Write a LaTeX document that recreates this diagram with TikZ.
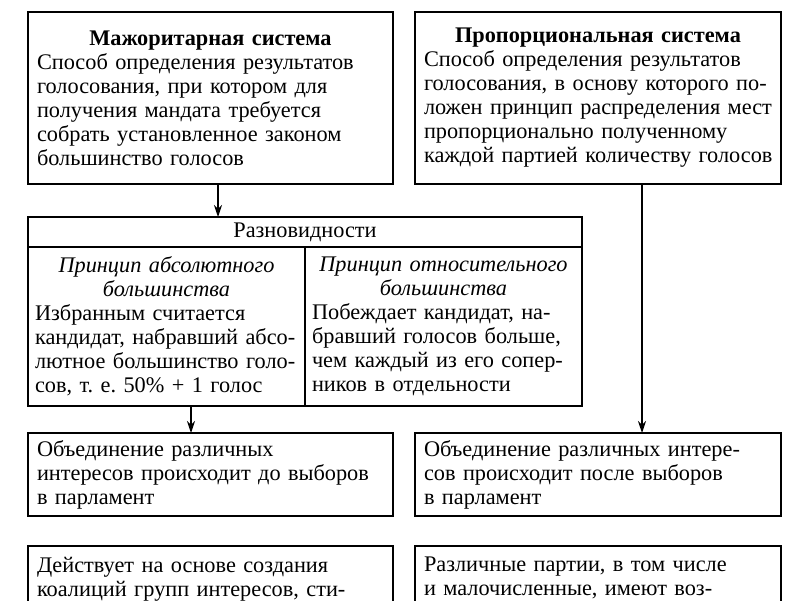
\documentclass[tikz,border=0pt]{standalone}
\usepackage{fontspec}
\setmainfont{Liberation Serif}
\usetikzlibrary{arrows.meta}
\setlength{\parindent}{0pt}
\frenchspacing
\newcommand{\Lz}[1]{\mbox{#1}}
\begin{document}
\begin{tikzpicture}[x=1pt,y=-1pt,
  box/.style={draw, line width=1.1pt, anchor=north west, outer sep=0pt,
    inner xsep=9pt, inner ysep=0pt, font=\fontsize{22.3}{24}\selectfont},
  arr/.style={line width=1.1pt, -{Stealth[length=12pt,width=8pt]}}]
\useasboundingbox (0,0) rectangle (800,600);
\clip (0,0) rectangle (800,600);
\fill[white] (0,0) rectangle (800,600);

\node[box, minimum width=365pt, minimum height=172pt, text width=347pt] (maj) at (28,12)
 {\centering\textbf{Мажоритарная система}\par
  \raggedright \Lz{Способ определения результатов}\\
  \Lz{голосования, при котором для}\\
  \Lz{получения мандата требуется}\\
  \Lz{собрать установленное законом}\\
  \Lz{большинство голосов}};

\node[box, minimum width=366pt, minimum height=172pt, text width=348pt] (prop) at (415,12)
 {\centering\textbf{Пропорциональная система}\par
  \raggedright \Lz{Способ определения результатов}\\
  \Lz{голосования, в основу которого по-}\\
  \Lz{ложен принцип распределения мест}\\
  \Lz{пропорционально полученному}\\
  \Lz{каждой партией количеству голосов}};

\node[box, minimum width=554pt, minimum height=30pt, text width=536pt, align=center] (razn) at (28,217)
 {Разновидности};

\node[box, inner xsep=7pt, minimum width=277pt, minimum height=159pt, text width=263pt] (absol) at (28,247)
 {\centering\textit{Принцип абсолютного\\ большинства}\par
  \raggedright \Lz{Избранным считается}\\
  \Lz{кандидат, набравший абсо-}\\
  \Lz{лютное большинство голо-}\\
  \Lz{сов, т. е. 50\% + 1 голос}};

\node[box, inner xsep=7pt, minimum width=277pt, minimum height=159pt, text width=263pt] (otnos) at (305,247)
 {\centering\textit{Принцип относительного\\ большинства}\par
  \raggedright \Lz{Побеждает кандидат, на-}\\
  \Lz{бравший голосов больше,}\\
  \Lz{чем каждый из его сопер-}\\
  \Lz{ников в отдельности}};

\node[box, minimum width=365pt, minimum height=83pt, text width=347pt] (objL) at (28,433)
 {\raggedright \Lz{Объединение различных}\\
  \Lz{интересов происходит до выборов}\\
  \Lz{в парламент}};

\node[box, minimum width=366pt, minimum height=83pt, text width=348pt] (objR) at (415,433)
 {\raggedright \Lz{Объединение различных интере-}\\
  \Lz{сов происходит после выборов}\\
  \Lz{в парламент}};

\node[box, inner ysep=11pt, minimum width=365pt, text width=347pt] (deist) at (28,546)
 {\raggedright \Lz{Действует на основе создания}\\
  \Lz{коалиций групп интересов, сти-}};

\node[box, inner ysep=11pt, minimum width=366pt, text width=348pt] (razl) at (415,546)
 {\raggedright \Lz{Различные партии, в том числе}\\
  \Lz{и малочисленные, имеют воз-}};

\draw[arr] ([xshift=7.5pt]maj.south) -- ([xshift=7.5pt]maj.south |- razn.north);
\draw[arr] ([xshift=44pt]prop.south) -- ([xshift=44pt]prop.south |- objR.north);
\draw[arr] ([xshift=24.5pt]absol.south) -- ([xshift=24.5pt]absol.south |- objL.north);
\end{tikzpicture}
\end{document}
